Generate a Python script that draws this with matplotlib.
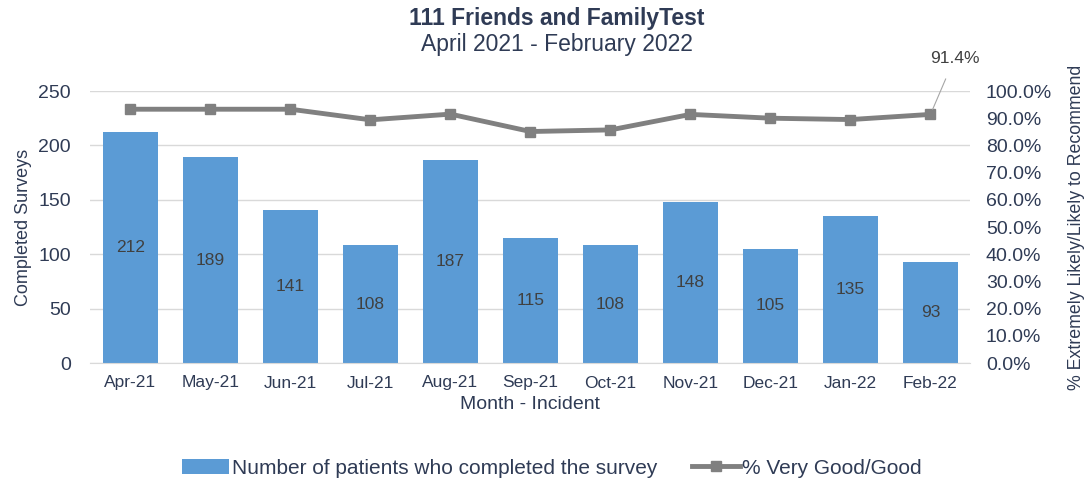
import matplotlib
matplotlib.use("Agg")
import matplotlib.pyplot as plt
import numpy as np

plt.rcParams['font.family'] = ['Liberation Sans', 'DejaVu Sans']

meses = ['Apr-21', 'May-21', 'Jun-21', 'Jul-21', 'Aug-21', 'Sep-21', 'Oct-21',
         'Nov-21', 'Dec-21', 'Jan-22', 'Feb-22']
encuestas = [212, 189, 141, 108, 187, 115, 108, 148, 105, 135, 93]
porcentaje = [93.3, 93.3, 93.3, 89.4, 91.5, 85.1, 85.7, 91.4, 90.0, 89.5, 91.4]

color_texto = '#2F3B55'
color_barra = '#5B9BD5'
color_linea = '#808080'

fig = plt.figure(figsize=(10.84, 4.84), dpi=100, facecolor='white')
# area del grafico (pixeles medidos en la referencia)
ax = fig.add_axes([90.5 / 1084, 1 - 363 / 484, 880 / 1084, 272 / 484])
x = np.arange(len(meses))

barras = ax.bar(x, encuestas, width=0.69, color=color_barra, zorder=2,
                label='Number of patients who completed the survey')
for b in barras:
    h = b.get_height()
    ax.text(b.get_x() + b.get_width() / 2, h / 2, str(int(h)), ha='center',
            va='center', fontsize=12.5, color='#404040')

ax.set_ylim(0, 250)
ax.set_yticks(range(0, 251, 50))
ax.set_xlim(-0.5, len(meses) - 0.5)
ax.set_xticks(x)
ax.set_xticklabels(meses)
ax.yaxis.grid(True, color='#D9D9D9', linewidth=1)
ax.set_axisbelow(True)
for s in ['top', 'right', 'left']:
    ax.spines[s].set_visible(False)
ax.spines['bottom'].set_color('#D9D9D9')
ax.tick_params(axis='x', length=0, labelsize=12.5, colors=color_texto, pad=9)
ax.tick_params(axis='y', length=0, labelsize=14, colors=color_texto, pad=14)
ax.set_ylabel('Completed Surveys', fontsize=13, color=color_texto)
ax.set_xlabel('Month - Incident', fontsize=14, color=color_texto, labelpad=4)
ax.yaxis.set_label_coords(-0.066, 0.5)

ax2 = ax.twinx()
linea, = ax2.plot(x, porcentaje, color=color_linea, linewidth=3.5, marker='s',
                  markersize=7, label='% Very Good/Good', zorder=3)
ax2.set_ylim(0, 100)
ax2.set_yticks(range(0, 101, 10))
ax2.set_yticklabels([f'{v:.1f}%' for v in range(0, 101, 10)])
for s in ['top', 'right', 'left', 'bottom']:
    ax2.spines[s].set_visible(False)
ax2.tick_params(axis='y', length=0, labelsize=14, colors=color_texto, pad=11)
ax2.set_ylabel('% Extremely Likely/Likely to Recommend', fontsize=12.8,
               color=color_texto)
ax2.yaxis.set_label_coords(1.111, 0.5)

ax2.annotate(f'{porcentaje[-1]}%', xy=(x[-1], porcentaje[-1]), xytext=(x[-1] + 0.3, 112),
             ha='center', va='center', fontsize=12.5, color='#404040',
             arrowprops=dict(arrowstyle='-', color='#A6A6A6', lw=0.8,
                             shrinkA=8, shrinkB=4),
             annotation_clip=False)

fig.text(0.514, 1 - 19 / 484, '111 Friends and FamilyTest', ha='center', va='center',
         fontsize=16.5, fontweight='bold', color=color_texto)
fig.text(0.514, 1 - 45 / 484, 'April 2021 - February 2022', ha='center', va='center',
         fontsize=16.5, color=color_texto)

fig.legend(handles=[barras, linea], loc='center', bbox_to_anchor=(0.509, 1 - 468 / 484),
           ncol=2, frameon=False, fontsize=15, columnspacing=1.7, handlelength=2.3,
           handletextpad=0.1, labelcolor=color_texto)

fig.savefig('out.png', dpi=100)
